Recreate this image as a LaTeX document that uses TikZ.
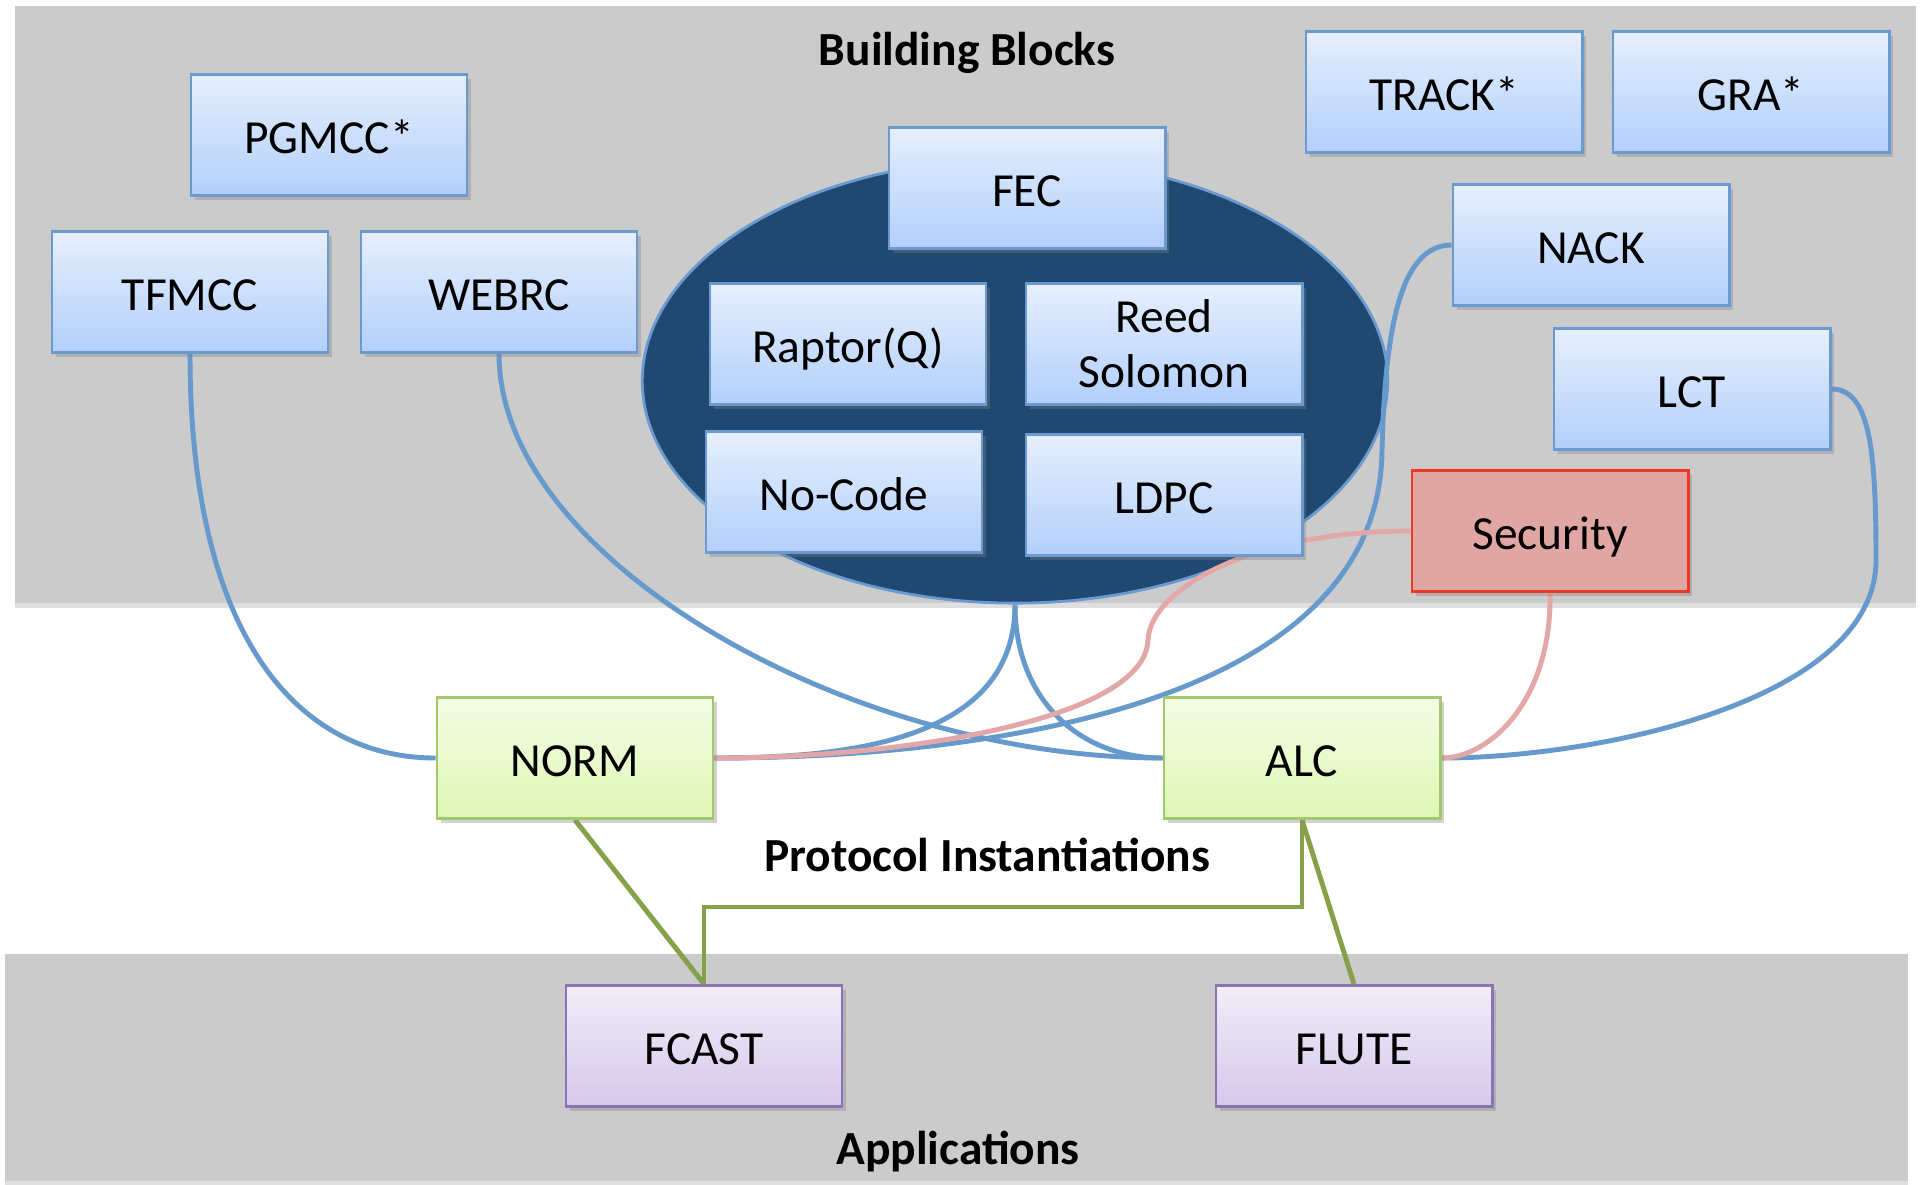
\documentclass[tikz,border=0pt]{standalone}
\usepackage{fontspec}
\setmainfont{Carlito}
\usepackage{xcolor}
\usepackage{tikz}
\usetikzlibrary{positioning,shapes.geometric,shadows}
\pgfdeclarelayer{background}
\pgfdeclarelayer{links}
\pgfsetlayers{background,links,main}

\definecolor{panelgray}{HTML}{CBCBCB}
\definecolor{fecnavy}{HTML}{1F4971}
\definecolor{bluetop}{HTML}{E6EFFD}
\definecolor{bluebot}{HTML}{B2CFFB}
\definecolor{blueedge}{HTML}{6A9AD0}
\definecolor{greentop}{HTML}{F4FCE6}
\definecolor{greenbot}{HTML}{DEF7B4}
\definecolor{greenedge}{HTML}{A3C86C}
\definecolor{violettop}{HTML}{F1EDF9}
\definecolor{violetbot}{HTML}{D5C8EB}
\definecolor{violetedge}{HTML}{8D73B6}
\definecolor{secfill}{HTML}{E0A6A3}
\definecolor{secedge}{HTML}{EE3A22}
\definecolor{linkblue}{HTML}{6699CC}
\definecolor{linkpink}{HTML}{E3A7A7}
\definecolor{linkgreen}{HTML}{85A24A}

\tikzset{
  box/.style={draw, line width=0.8pt, minimum width=2.76cm, minimum height=1.21cm, inner sep=2pt, align=center,
    text height=12pt, text depth=1.3pt,
    font=\fontsize{13.5}{15.6}\selectfont, drop shadow={shadow xshift=1.2pt, shadow yshift=-1.2pt, opacity=0.35}},
  block/.style={box, draw=blueedge, top color=bluetop, bottom color=bluebot},
  proto/.style={box, draw=greenedge, top color=greentop, bottom color=greenbot},
  app/.style={box, draw=violetedge, top color=violettop, bottom color=violetbot},
  secblock/.style={box, draw=secedge, fill=secfill},
  panel/.style={fill=panelgray, inner sep=0pt, outer sep=0pt, drop shadow={shadow xshift=0pt, shadow yshift=-1.5pt, opacity=0.25}},
  layertitle/.style={font=\fontsize{13.5}{16}\selectfont\bfseries},
  bluelink/.style={draw=linkblue, line width=1.4pt},
  pinklink/.style={draw=linkpink, line width=1.4pt},
  greenlink/.style={draw=linkgreen, line width=1.4pt},
}

\begin{document}
\begin{tikzpicture}[x=0.01cm,y=-0.01cm]
            \begin{pgfonlayer}{background}
                \path[use as bounding box, fill=white] (0,0) rectangle (1921,1183);
                \node[panel,minimum width=18.99cm,minimum height=5.97cm] (bbpanel) at (965.5,304.5) {};
                \node[panel,minimum width=19.01cm,minimum height=2.27cm] (apppanel) at (956.5,1067.5) {};
                \node[draw=blueedge,line width=0.8pt,ellipse,fill=fecnavy,inner sep=0pt,minimum width=7.45cm,minimum height=4.44cm] (fecpool) at (1015,381) {};
            \end{pgfonlayer}

            \node[layertitle] (bbtitle) at (967,53) {Building Blocks};
            \node[layertitle] (pititle) at (987,855) {Protocol Instantiations};
            \node[layertitle] (apptitle) at (958,1152) {Applications};

            \node[block] (pgmcc) at (329,135) {PGMCC*};
            \node[block] (tfmcc) at (190,292) {TFMCC};
            \node[block] (webrc) at (499,292) {WEBRC};
            \node[block] (fec) at (1027,188) {FEC};
            \node[block] (raptor) at (848,344) {Raptor(Q)};
            \node[block,text height=,text depth=] (reedsol) at (1164,344) {Reed\\Solomon};
            \node[block] (nocode) at (844,492) {No-Code};
            \node[block] (ldpc) at (1164,495) {LDPC};
            \node[block] (track) at (1444,92) {TRACK*};
            \node[block] (gra) at (1751,92) {GRA*};
            \node[block] (nack) at (1591,245) {NACK};
            \node[block] (lct) at (1692,389) {LCT};
            \node[secblock] (security) at (1550,531) {Security};

            \node[proto] (norm) at (575,758) {NORM};
            \node[proto] (alc) at (1302,758) {ALC};

            \node[app] (fcast) at (704,1046) {FCAST};
            \node[app] (flute) at (1354,1046) {FLUTE};

            \begin{pgfonlayer}{links}
                \draw[bluelink] (tfmcc.south) .. controls (190,640) and (300,758) .. (norm.west);
                \draw[bluelink] (webrc.south) .. controls (499,560) and (850,758) .. (alc.west);
                \draw[bluelink] (fecpool.south) .. controls (1015,740) and (850,758) .. (norm.east);
                \draw[bluelink] (fecpool.south) .. controls (1015,700) and (1080,758) .. (alc.west);
                \draw[bluelink] (nack.west) .. controls (1400,245) and (1385,330) .. (1382,450) .. controls (1380,700) and (1000,758) .. (norm.east);
                \draw[bluelink] (lct.east) .. controls (1870,389) and (1876,450) .. (1876,560) .. controls (1876,700) and (1600,758) .. (alc.east);
                \draw[pinklink] (security.west) .. controls (1250,531) and (1150,590) .. (1148,640) .. controls (1145,720) and (900,758) .. (norm.east);
                \draw[pinklink] (security.south) .. controls (1552,700) and (1490,758) .. (alc.east);
                \draw[greenlink] (norm.south) -- (fcast.north);
                \draw[greenlink] (alc.south) -- (flute.north);
                \draw[greenlink] (alc.south) -- (1302,907) -| (fcast.north);
            \end{pgfonlayer}
        \end{tikzpicture}
\end{document}
